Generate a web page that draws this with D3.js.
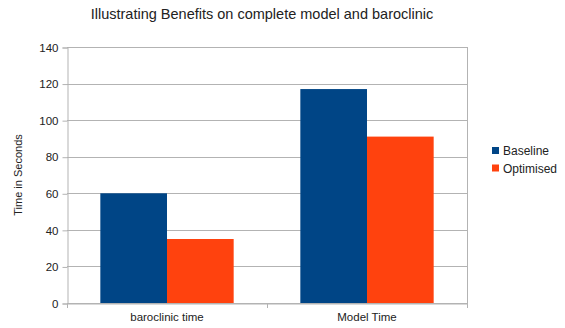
<!DOCTYPE html>
<html>
<head>
<meta charset="utf-8">
<script src="https://cdn.jsdelivr.net/npm/d3@7"></script>
<style>
  html, body { margin: 0; padding: 0; background: #fff; }
  svg { display: block; font-family: "Liberation Sans", Arial, sans-serif; }
</style>
</head>
<body>
<svg id="chart" width="565" height="328"></svg>
<script>
const categories = ["baroclinic time", "Model Time"];
const seriesNames = ["Baseline", "Optimised"];
const baseline = [60, 117];
const optimised = [35, 91];
const yTicks = [0, 20, 40, 60, 80, 100, 120, 140];
const colors = ["#004586", "#ff420e"];

const svg = d3.select("#chart");
const margin = { left: 67, right: 98, top: 47, bottom: 25 };
const W = 565, H = 328;
const x0 = margin.left, x1 = W - margin.right;
const yTop = margin.top, yBot = H - margin.bottom;

const x = d3.scaleBand().domain(categories).range([x0, x1]).paddingInner(0).paddingOuter(0);
const xs = d3.scaleBand().domain(seriesNames).range([0, x.bandwidth()]).paddingInner(0).paddingOuter(0.5);
const y = d3.scaleLinear().domain([0, 140]).range([yBot, yTop]);

// Title
svg.append("text").attr("x", 262).attr("y", 19).attr("text-anchor", "middle")
  .attr("font-size", 14.5).attr("fill", "#222")
  .text("Illustrating Benefits on complete model and baroclinic");

// Grid lines
svg.append("g").selectAll("line").data(yTicks).join("line")
  .attr("x1", x0).attr("x2", x1)
  .attr("y1", d => Math.round(y(d)) + 0.5).attr("y2", d => Math.round(y(d)) + 0.5)
  .attr("stroke", "#b3b3b3").attr("stroke-width", 1);

// Y axis
const yAxis = d3.axisLeft(y).tickValues(yTicks).tickSize(5).tickPadding(4);
const gy = svg.append("g").attr("transform", `translate(${x0 + 0.5},0.5)`).call(yAxis);
gy.select(".domain").attr("stroke", "#b3b3b3");
gy.selectAll(".tick line").attr("stroke", "#b3b3b3");
gy.selectAll(".tick text").attr("font-size", 11.5).attr("fill", "#222")
  .attr("font-family", "Liberation Sans, Arial, sans-serif");

// Right border
svg.append("line").attr("x1", x1 + 0.5).attr("x2", x1 + 0.5).attr("y1", yTop).attr("y2", yBot)
  .attr("stroke", "#b3b3b3");

// Bars
const data = categories.map((c, i) => ({ cat: c, vals: [baseline[i], optimised[i]] }));
const groups = svg.append("g").selectAll("g").data(data).join("g")
  .attr("transform", d => `translate(${x(d.cat)},0)`);
groups.selectAll("rect").data(d => d.vals.map((v, j) => ({ v, s: seriesNames[j], j })))
  .join("rect")
  .attr("x", d => xs(d.s))
  .attr("width", xs.bandwidth())
  .attr("y", d => y(d.v))
  .attr("height", d => y(0) - y(d.v))
  .attr("fill", d => colors[d.j]);

// X axis
const xAxis = d3.axisBottom(x).tickSize(0).tickPadding(9);
const gx = svg.append("g").attr("transform", `translate(0,${yBot + 0.5})`).call(xAxis);
gx.select(".domain").attr("stroke", "#b3b3b3");
gx.selectAll(".tick text").attr("font-size", 11.5).attr("fill", "#222")
  .attr("font-family", "Liberation Sans, Arial, sans-serif");
// Category separator ticks
const bounds = [x0, x0 + x.bandwidth(), x1];
svg.append("g").selectAll("line").data(bounds).join("line")
  .attr("x1", d => d + 0.5).attr("x2", d => d + 0.5)
  .attr("y1", yBot).attr("y2", yBot + 5).attr("stroke", "#b3b3b3");

// Y axis title
svg.append("text").attr("transform", `translate(22,${(yTop + yBot) / 2}) rotate(-90)`)
  .attr("text-anchor", "middle").attr("font-size", 11).attr("fill", "#222")
  .text("Time in Seconds");

// Legend
const lg = svg.append("g").attr("transform", "translate(492,146)");
const li = lg.selectAll("g").data(seriesNames).join("g")
  .attr("transform", (d, i) => `translate(0,${i * 17.5})`);
li.append("rect").attr("width", 7).attr("height", 7).attr("y", 1)
  .attr("fill", (d, i) => colors[i]);
li.append("text").attr("x", 11).attr("y", 9).attr("font-size", 12).attr("fill", "#222").text(d => d);
</script>
</body>
</html>
